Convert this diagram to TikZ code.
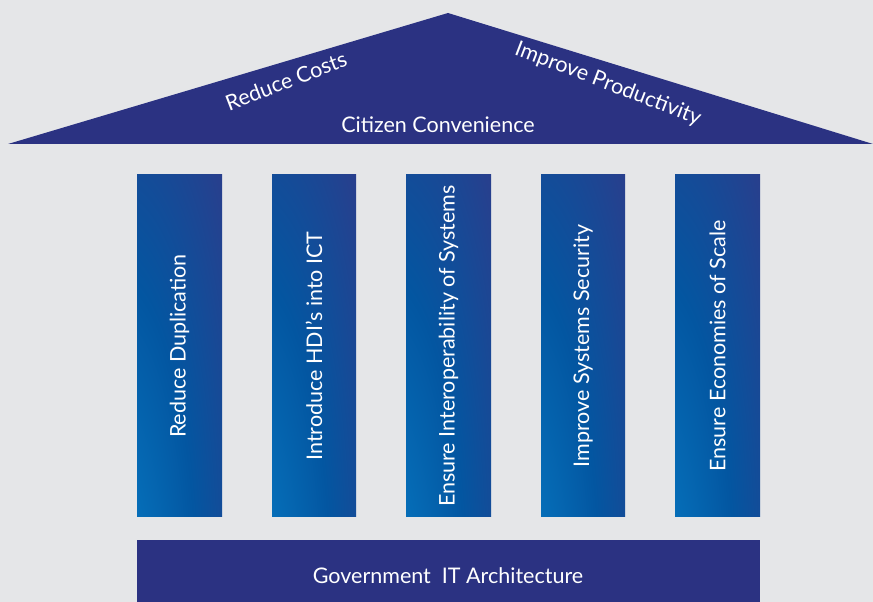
\documentclass[tikz,border=0pt]{standalone}
\usepackage{fontspec}
\setmainfont{Lato}
\definecolor{bgc}{HTML}{E5E6E8}
\definecolor{navy}{HTML}{2B3282}
\definecolor{colbright}{HTML}{0587CA}
\definecolor{colmidlight}{HTML}{0672BC}
\definecolor{colmid}{HTML}{0356A1}
\definecolor{coldark}{HTML}{283F8D}
% radial glow from the lower-left corner of each pillar
\pgfdeclareradialshading{pillarshade}{\pgfpoint{-50bp}{-50bp}}{%
  color(0bp)=(colbright); color(22bp)=(colmidlight); color(48bp)=(colmid);
  color(78bp)=(coldark); color(200bp)=(coldark)}
\tikzset{
  pillar/.style={shading=pillarshade},
  whitetext/.style={text=white, font=\fontsize{21.5}{24}\selectfont},
  pillartext/.style={whitetext, rotate=90},
}
\begin{document}
\begin{tikzpicture}[x=1pt,y=1pt]
\useasboundingbox (0,0) rectangle (873,602);
\fill[bgc] (0,0) rectangle (873,602);

% roof
\fill[navy] (8,458) coordinate (rl) -- (448,589) coordinate (ra) -- (873,458) coordinate (rr) -- cycle;
\node[whitetext] (conv) at (438,477) {Citizen Convenience};
\node[whitetext, rotate=21] (costs) at (286,521) {Reduce Costs};
\node[whitetext, rotate=-21] (prod) at (608,518) {Improve Productivity};

% pillars
\foreach \xa/\xb/\txt [count=\i] in {
  137/222/Reduce Duplication,
  272/356/Introduce HDI’s into ICT,
  406/491/Ensure Interoperability of Systems,
  541/625/Improve Systems Security,
  675/760/Ensure Economies of Scale} {
  \shade[pillar] (\xa,85) rectangle (\xb,427);
  \node[pillartext] (p\i) at ({(\xa+\xb)/2},256) {\txt};
}

% foundation
\fill[navy] (137,0) rectangle (760,62);
\node[whitetext] (base) at (448,26) {Government\ \ IT Architecture};
\end{tikzpicture}
\end{document}
